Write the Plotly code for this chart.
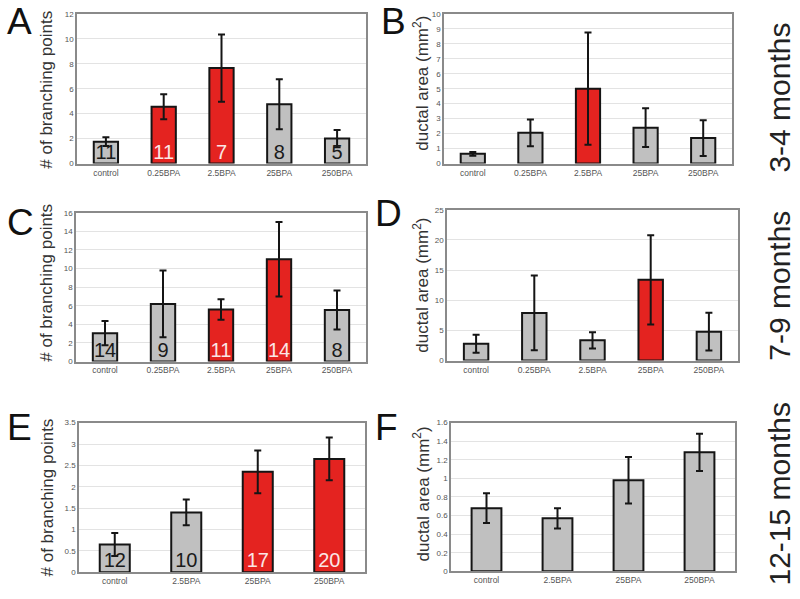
import plotly.graph_objects as go

W, H = 800, 599

cats5 = ["control", "0.25BPA", "2.5BPA", "25BPA", "250BPA"]
cats4 = ["control", "2.5BPA", "25BPA", "250BPA"]

# Panel A: branching points, 3-4 months
a_vals = [1.75, 4.55, 7.65, 4.75, 2.0]
a_err = [0.35, 1.0, 2.7, 2.0, 0.7]
a_n = ["11", "11", "7", "8", "5"]
a_sig = [0, 1, 1, 0, 0]

# Panel B: ductal area, 3-4 months
b_vals = [0.65, 2.05, 5.0, 2.4, 1.7]
b_err = [0.13, 0.9, 3.75, 1.3, 1.2]
b_sig = [0, 0, 1, 0, 0]

# Panel C: branching points, 7-9 months
c_vals = [3.05, 6.2, 5.6, 11.0, 5.55]
c_err = [1.3, 3.6, 1.1, 4.0, 2.1]
c_n = ["14", "9", "11", "14", "8"]
c_sig = [0, 0, 1, 1, 0]

# Panel D: ductal area, 7-9 months
d_vals = [2.8, 7.9, 3.35, 13.4, 4.8]
d_err = [1.5, 6.2, 1.35, 7.4, 3.15]
d_sig = [0, 0, 0, 1, 0]

# Panel E: branching points, 12-15 months
e_vals = [0.65, 1.4, 2.35, 2.65]
e_err = [0.27, 0.3, 0.5, 0.5]
e_n = ["12", "10", "17", "20"]
e_sig = [0, 0, 1, 1]

# Panel F: ductal area, 12-15 months
f_vals = [0.68, 0.57, 0.98, 1.28]
f_err = [0.16, 0.11, 0.25, 0.2]
f_sig = [0, 0, 0, 0]

row_labels = ["3-4 months", "7-9 months", "12-15 months"]

GRAY = "#c0c0c0"
RED = "#e42320"
FONT = "Liberation Sans, Arial, sans-serif"

panels = [
    ("A", cats5, a_vals, a_err, a_sig, a_n, 12, 2, (77, 366, 10, 162), "# of branching points"),
    ("B", cats5, b_vals, b_err, b_sig, None, 10, 1, (444, 732, 10, 162), "ductal area (mm<sup>2</sup>)"),
    ("C", cats5, c_vals, c_err, c_sig, c_n, 16, 2, (76, 366, 212, 363), "# of branching points"),
    ("D", cats5, d_vals, d_err, d_sig, None, 25, 5, (447, 738, 209, 362), "ductal area (mm<sup>2</sup>)"),
    ("E", cats4, e_vals, e_err, e_sig, e_n, 3.5, 0.5, (79, 365, 425, 577), "# of branching points"),
    ("F", cats4, f_vals, f_err, f_sig, None, 1.6, 0.2, (451, 735, 425, 576), "ductal area (mm<sup>2</sup>)"),
]

letter_pos = {"A": (19, 18), "B": (393, 18), "C": (20, 222), "D": (388, 213), "E": (19, 430), "F": (386, 430)}
title_x = {"A": 47, "C": 47, "E": 47, "B": 421, "D": 421, "F": 421}
title_y = {"A": 87, "B": 81, "C": 283, "D": 286, "E": 501, "F": 498}

fig = go.Figure()
annotations = []
layout_axes = {}

for i, (letter, cats, vals, err, sig, nlab, ymax, dtick, box, ytitle) in enumerate(panels):
    idx = "" if i == 0 else str(i + 1)
    xa, ya = "x" + idx, "y" + idx
    x0, x1, y0, y1 = box
    colors = [RED if s else GRAY for s in sig]
    fig.add_trace(go.Bar(
        x=cats, y=vals, xaxis=xa, yaxis=ya, width=0.42,
        marker=dict(color=colors, line=dict(color="#151515", width=2)),
        error_y=dict(type="data", array=err, visible=True, color="#151515", thickness=2, width=3.5),
        showlegend=False, hoverinfo="skip",
    ))
    if nlab is not None:
        tcolors = ["#fbe6e6" if s else "#1a1a1a" for s in sig]
        fig.add_trace(go.Scatter(
            x=cats, y=[0] * len(cats), xaxis=xa, yaxis=ya, mode="text",
            text=nlab, textposition="top center",
            textfont=dict(size=20, color=tcolors, family=FONT),
            showlegend=False, hoverinfo="skip", cliponaxis=False,
        ))
    layout_axes["xaxis" + idx] = dict(
        domain=[x0 / W, x1 / W], anchor=ya, type="category",
        showline=True, mirror=True, linecolor="#8a8a8a", linewidth=1.5,
        ticks="", showgrid=False, tickfont=dict(size=8.5, color="#555555", family=FONT),
        fixedrange=True,
    )
    layout_axes["yaxis" + idx] = dict(
        domain=[1 - y1 / H, 1 - y0 / H], anchor=xa, range=[0, ymax], dtick=dtick,
        showline=True, mirror=True, linecolor="#8a8a8a", linewidth=1.5,
        showgrid=True, gridcolor="#e3e3e3", gridwidth=1, zeroline=False,
        ticks="", tickfont=dict(size=8, color="#555555", family=FONT),
        fixedrange=True,
    )
    lx, ly = letter_pos[letter]
    annotations.append(dict(text=letter, x=lx / W, y=1 - ly / H, xref="paper", yref="paper",
                            showarrow=False, font=dict(size=37, color="#111111", family=FONT),
                            xanchor="center", yanchor="middle"))
    annotations.append(dict(text=ytitle, x=title_x[letter] / W, y=1 - title_y[letter] / H,
                            xref="paper", yref="paper", showarrow=False, textangle=-90,
                            font=dict(size=17, color="#333333", family=FONT),
                            xanchor="center", yanchor="middle"))

row_y = [95, 286, 498]
for lab, yy in zip(row_labels, row_y):
    annotations.append(dict(text=lab, x=780 / W, y=1 - yy / H, xref="paper", yref="paper",
                            showarrow=False, textangle=-90,
                            font=dict(size=30, color="#222222", family=FONT),
                            xanchor="center", yanchor="middle"))

fig.update_layout(
    width=W, height=H, margin=dict(l=0, r=0, t=0, b=0),
    paper_bgcolor="white", plot_bgcolor="white",
    annotations=annotations, **layout_axes,
)

fig.write_html("out.html", config={"displayModeBar": False},
               post_script="document.body.style.margin='0';document.body.style.overflow='hidden';")
